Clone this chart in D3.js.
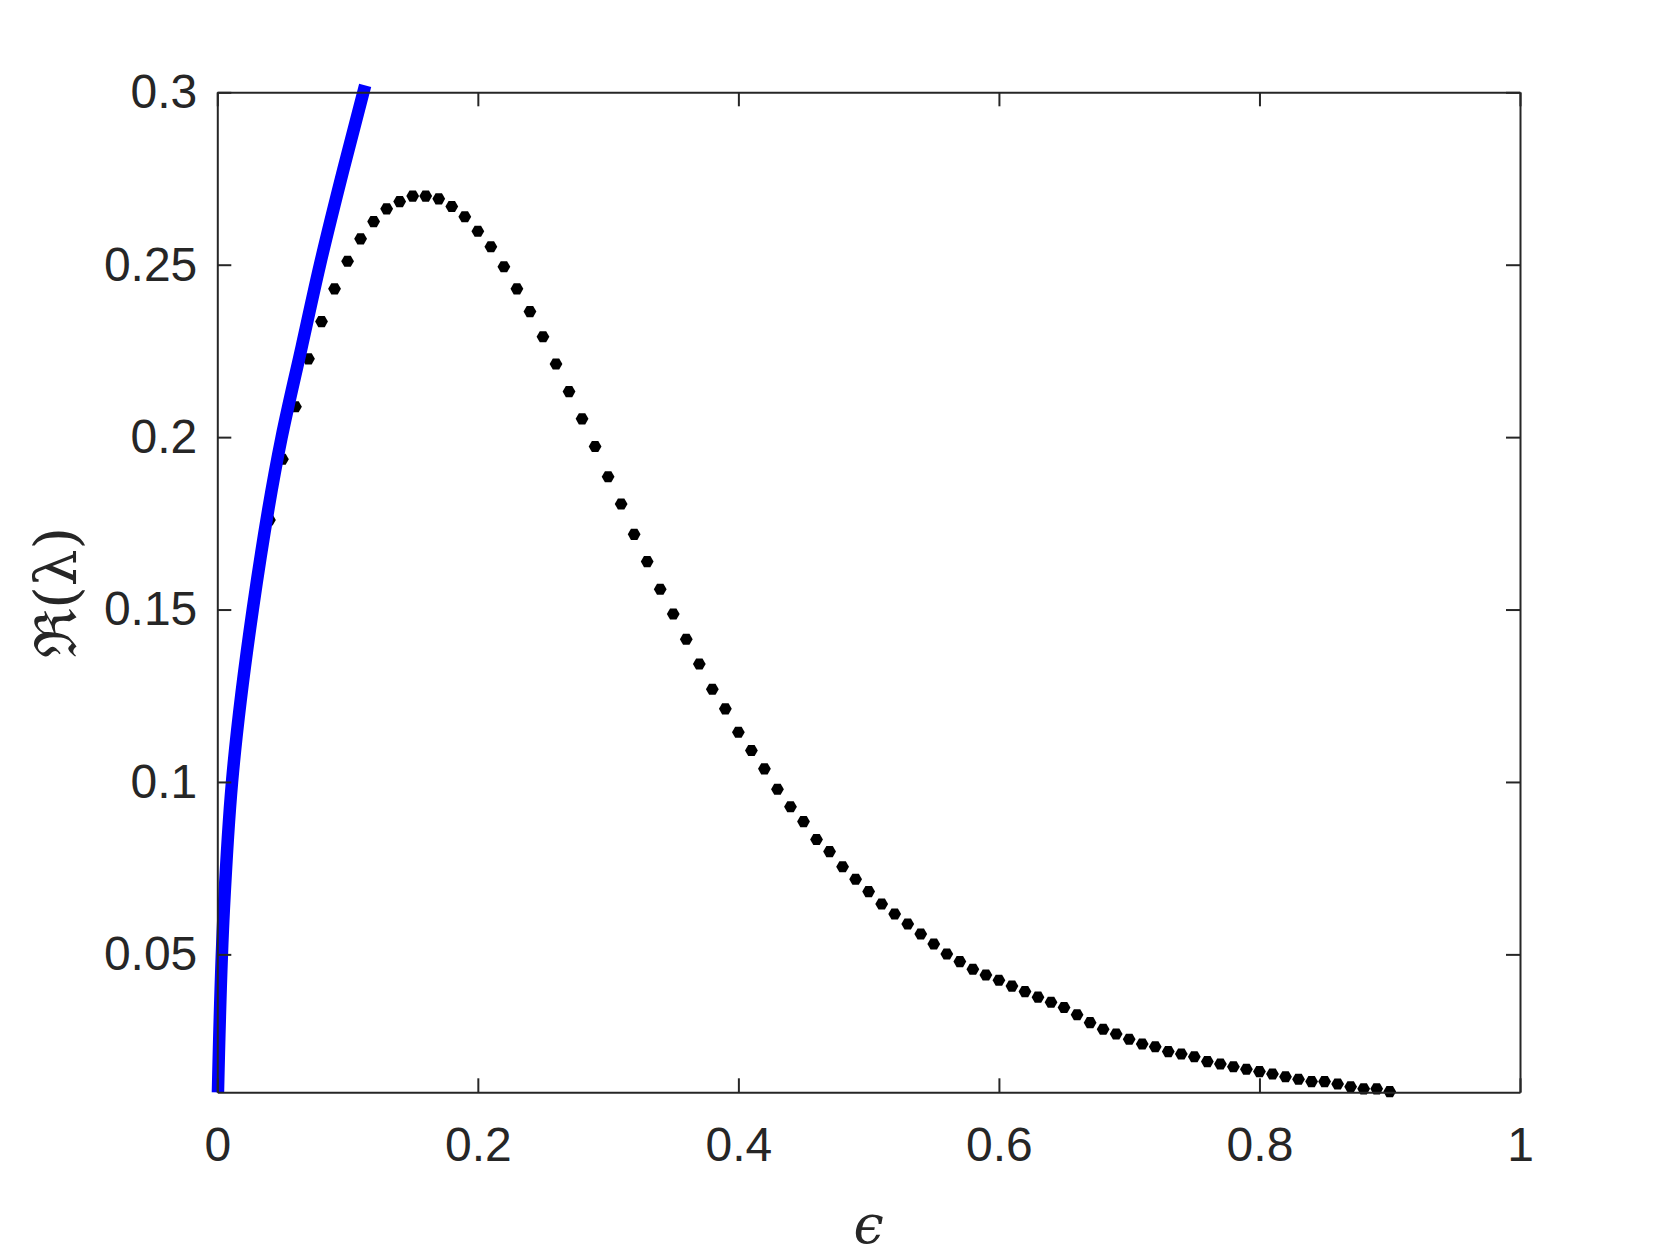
<!DOCTYPE html>
<html>
<head>
<meta charset="utf-8">
<script src="https://cdn.jsdelivr.net/npm/d3@7"></script>
<style>
  html, body { margin: 0; padding: 0; background: #ffffff; }
  svg { display: block; }
</style>
</head>
<body>
<script>
// ---- data ----
const xTickValues = [0, 0.2, 0.4, 0.6, 0.8, 1];
const xTickLabels = ["0", "0.2", "0.4", "0.6", "0.8", "1"];
const yTickValues = [0.05, 0.1, 0.15, 0.2, 0.25, 0.3];
const yTickLabels = ["0.05", "0.1", "0.15", "0.2", "0.25", "0.3"];

// blue solid curve (epsilon, Re(lambda))
const blueEps = [0.0005, 0.005, 0.0113, 0.0272, 0.0494, 0.0648, 0.0788, 0.0967, 0.1135];
const blueVal = [0.010, 0.063, 0.100, 0.150, 0.200, 0.2262, 0.250, 0.2775, 0.302];

// black dotted series
const dotEps = [0.04,0.05,0.06,0.07,0.08,0.09,0.10,0.11,0.12,0.13,0.14,0.15,0.16,0.17,0.18,0.19,
  0.20,0.21,0.22,0.23,0.24,0.25,0.26,0.27,0.28,0.29,0.30,0.31,0.32,0.33,0.34,0.35,0.36,0.37,0.38,0.39,
  0.40,0.41,0.42,0.43,0.44,0.45,0.46,0.47,0.48,0.49,0.50,0.51,0.52,0.53,0.54,0.55,0.56,0.57,0.58,0.59,
  0.60,0.61,0.62,0.63,0.64,0.65,0.66,0.67,0.68,0.69,0.70,0.71,0.72,0.73,0.74,0.75,0.76,0.77,0.78,0.79,
  0.80,0.81,0.82,0.83,0.84,0.85,0.86,0.87,0.88,0.89,0.90];
const dotVal = [0.176,0.1936,0.2088,0.2227,0.2335,0.2430,0.2510,0.2575,0.2625,0.2662,0.2683,0.2699,0.2699,0.2691,0.2669,0.2639,
  0.2597,0.2552,0.2494,0.2430,0.2364,0.2291,0.2212,0.2132,0.2053,0.1973,0.1885,0.1806,0.1718,0.1639,0.1559,0.1487,0.1414,0.1342,0.1269,0.1212,
  0.1144,0.1091,0.1038,0.0979,0.0928,0.0885,0.0833,0.0798,0.0754,0.0718,0.0682,0.0646,0.0617,0.0588,0.0559,0.0530,0.0501,0.0479,0.0457,0.0440,
  0.0425,0.0408,0.0392,0.0376,0.0361,0.0346,0.0325,0.0302,0.0283,0.0269,0.0254,0.0240,0.0232,0.0218,0.0211,0.0203,0.0189,0.0182,0.0174,0.0167,
  0.0160,0.0153,0.0145,0.0138,0.0131,0.0131,0.0124,0.0116,0.0110,0.0110,0.0102];

// ---- layout ----
const W = 1679, H = 1258;
const L = 217.3, R = 1520, T = 92.3, B = 1092.3;
const axisColor = "#262626";
const fontFam = "'Liberation Sans', Arial, Helvetica, sans-serif";

const svg = d3.select("body").append("svg")
  .attr("width", W).attr("height", H)
  .attr("viewBox", `0 0 ${W} ${H}`);
svg.append("rect").attr("width", W).attr("height", H).attr("fill", "#fff");

const x = d3.scaleLinear().domain([0, 1]).range([L, R]);
const y = d3.scaleLinear().domain([0.01, 0.3]).range([B, T]);

// dots (hexagon-like markers)
const hexR = 6.4;
const hexPath = d3.line()(d3.range(6).map(i => {
  const a = Math.PI / 3 * i;
  return [hexR * Math.cos(a), hexR * Math.sin(a)];
})) + "Z";

svg.append("g").selectAll("path")
  .data(dotEps.map((e, i) => [e, dotVal[i]]))
  .join("path")
  .attr("d", hexPath)
  .attr("transform", d => `translate(${x(d[0])},${y(d[1])})`)
  .attr("fill", "#000");

// blue line
svg.append("path")
  .datum(blueEps.map((e, i) => [e, blueVal[i]]))
  .attr("d", d3.line().x(d => x(d[0])).y(d => y(d[1])).curve(d3.curveMonotoneY))
  .attr("fill", "none")
  .attr("stroke", "#0000ff")
  .attr("stroke-width", 12.5)
  .attr("stroke-linejoin", "round");

// axes
function styleAxis(g) {
  g.selectAll(".domain").attr("stroke", axisColor).attr("stroke-width", 2);
  g.selectAll(".tick line").attr("stroke", axisColor).attr("stroke-width", 2);
  g.selectAll(".tick text").attr("fill", axisColor)
    .style("font-family", fontFam).style("font-size", "48px");
}

const gx = svg.append("g").attr("transform", `translate(0,${B})`)
  .call(d3.axisBottom(x).tickValues(xTickValues)
    .tickFormat((d, i) => xTickLabels[i])
    .tickSizeInner(-14).tickSizeOuter(0).tickPadding(35));
styleAxis(gx);

const gxt = svg.append("g").attr("transform", `translate(0,${T})`)
  .call(d3.axisTop(x).tickValues(xTickValues).tickFormat("")
    .tickSizeInner(-14).tickSizeOuter(0));
styleAxis(gxt);

const gy = svg.append("g").attr("transform", `translate(${L},0)`)
  .call(d3.axisLeft(y).tickValues(yTickValues)
    .tickFormat((d, i) => yTickLabels[i])
    .tickSizeInner(-14).tickSizeOuter(0).tickPadding(20));
styleAxis(gy);

const gyr = svg.append("g").attr("transform", `translate(${R},0)`)
  .call(d3.axisRight(y).tickValues(yTickValues).tickFormat("")
    .tickSizeInner(-14).tickSizeOuter(0));
styleAxis(gyr);

// axis titles
svg.append("text")
  .attr("x", (L + R) / 2).attr("y", 1243)
  .attr("text-anchor", "middle")
  .attr("fill", axisColor)
  .style("font-family", "'DejaVu Serif', 'Liberation Serif', serif")
  .style("font-style", "italic")
  .style("font-size", "54px")
  .text("ϵ");

svg.append("text")
  .attr("transform", `translate(76,${(T + B) / 2}) rotate(-90)`)
  .attr("text-anchor", "middle")
  .attr("fill", axisColor)
  .style("font-family", "'DejaVu Serif', 'Liberation Serif', serif")
  .style("font-size", "58px")
  .text("ℜ(λ)");
</script>
</body>
</html>
